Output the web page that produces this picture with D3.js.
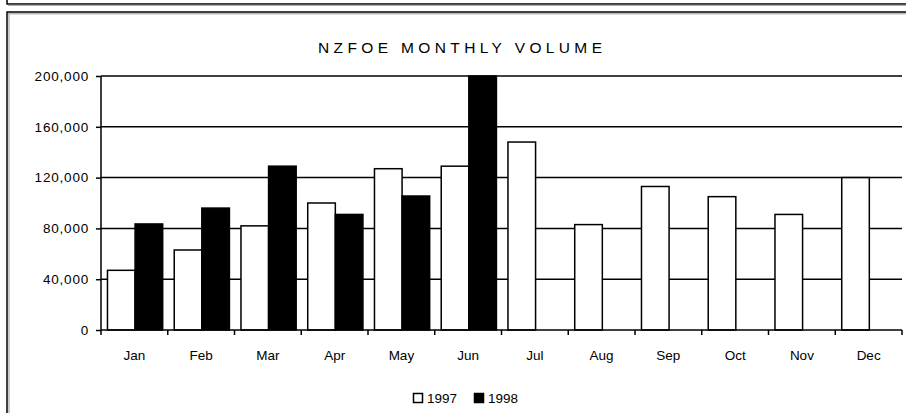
<!DOCTYPE html>
<html><head><meta charset="utf-8">
<script src="https://cdn.jsdelivr.net/npm/d3@7"></script>
<style>body{margin:0;background:#fff}svg{display:block}text{font-family:Arial,"Liberation Sans",sans-serif;fill:#000}</style>
</head><body><svg id="c" width="906" height="413"></svg>
<script>
const months = ["Jan","Feb","Mar","Apr","May","Jun","Jul","Aug","Sep","Oct","Nov","Dec"];
const seriesNames = ["1997","1998"];
const values1997 = [47000,63000,82000,100000,127000,129000,148000,83000,113000,105000,91000,120000];
const values1998 = [83500,96000,129000,91000,105500,200000,null,null,null,null,null,null];
const yTicks = [0,40000,80000,120000,160000,200000];
const title = "NZFOE MONTHLY VOLUME";
const colors = {"1997":"#fff","1998":"#000"};

const svg = d3.select("#c");
// frames
svg.append("rect").attr("x",7).attr("y",-20).attr("width",920).attr("height",24).attr("fill","none").attr("stroke","#000").attr("stroke-width",1.5);
svg.append("rect").attr("x",8).attr("y",4.8).attr("width",920).attr("height",1).attr("fill","#999");
svg.append("rect").attr("x",7).attr("y",12).attr("width",920).attr("height",420).attr("fill","none").attr("stroke","#000").attr("stroke-width",1.5);
svg.append("rect").attr("x",8.5).attr("y",13.3).attr("width",920).attr("height",1).attr("fill","#999");
svg.append("rect").attr("x",8.5).attr("y",13.3).attr("width",1).attr("height",420).attr("fill","#999");

const x0 = d3.scaleBand().domain(months).range([101,902]).padding(0);
const bw = x0.bandwidth();
const x1 = d3.scaleBand().domain(seriesNames).range([bw*0.097, bw*0.924]).padding(0);
const y = d3.scaleLinear().domain([0,200000]).range([330,76]);

// title
svg.append("text").attr("x",460).attr("y",53).attr("text-anchor","middle")
  .attr("font-size",15.5).attr("textLength",284).attr("lengthAdjust","spacing").text(title);

// gridlines
svg.append("g").selectAll("line").data(yTicks.filter(d=>d>0)).join("line")
  .attr("x1",101).attr("x2",902).attr("y1",d=>y(d)).attr("y2",d=>y(d))
  .attr("stroke","#000").attr("stroke-width",1.5);

// bars
const data = months.map((m,i)=>({m, vals:[{s:"1997",v:values1997[i]},{s:"1998",v:values1998[i]}]}));
const g = svg.append("g");
g.selectAll("g").data(data).join("g").attr("transform",d=>`translate(${x0(d.m)},0)`)
  .selectAll("rect").data(d=>d.vals.filter(v=>v.v!=null)).join("rect")
  .attr("x",d=>x1(d.s)).attr("width",x1.bandwidth())
  .attr("y",d=>y(d.v)).attr("height",d=>y(0)-y(d.v))
  .attr("fill",d=>colors[d.s]).attr("stroke","#000").attr("stroke-width",1.5);

// y axis
const ya = d3.axisLeft(y).tickValues(yTicks).tickFormat(d3.format(",")).tickSize(5).tickPadding(7);
const yg = svg.append("g").attr("transform","translate(101,0)").call(ya);
yg.select(".domain").attr("stroke-width",1.5).attr("d","M0,76V330");
yg.selectAll(".tick line").attr("stroke-width",1.5);
yg.selectAll("text").attr("font-size",13.5).attr("letter-spacing",0.8).attr("font-family","Arial, 'Liberation Sans', sans-serif");

// x axis
svg.append("line").attr("x1",101).attr("x2",902).attr("y1",330).attr("y2",330).attr("stroke","#000").attr("stroke-width",1.5);
const bounds = months.map(m=>x0(m)).concat([x0.range()[1]]);
svg.append("g").selectAll("line").data(bounds).join("line")
  .attr("x1",d=>d).attr("x2",d=>d).attr("y1",330).attr("y2",335).attr("stroke","#000").attr("stroke-width",1.5);
const xa = d3.axisBottom(x0).tickSize(0).tickPadding(20);
const xg = svg.append("g").attr("transform","translate(0,330)").call(xa);
xg.select(".domain").remove();
xg.selectAll("text").attr("font-size",13.5).attr("font-family","Arial, 'Liberation Sans', sans-serif");

// legend
const lg = svg.append("g").attr("transform","translate(413,393)");
const items = lg.selectAll("g").data(seriesNames).join("g").attr("transform",(d,i)=>`translate(${i*61},0)`);
items.append("rect").attr("width",9).attr("height",9).attr("x",0.5).attr("y",0.5)
  .attr("fill",d=>colors[d]).attr("stroke","#000").attr("stroke-width",1.5);
items.append("text").attr("x",14).attr("y",10).attr("font-size",13.5).text(d=>d);
</script></body></html>
